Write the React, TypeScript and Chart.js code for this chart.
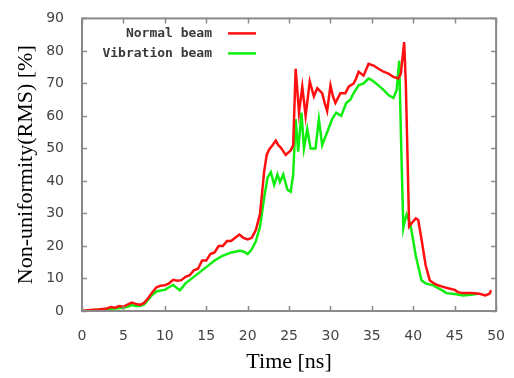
import React, { useEffect, useRef } from "react";
import { Chart, registerables } from "chart.js";

Chart.register(...registerables);

const normalTime = [
  0, 1, 2, 3, 3.5, 4, 4.5, 5, 5.5, 6, 6.5, 7, 7.5, 8, 8.5, 9, 9.5, 10, 10.5, 11, 11.5, 12, 12.5, 13, 13.5, 14, 14.5, 15, 15.5, 16, 16.5, 17, 17.5, 18, 18.5, 19, 19.5, 20, 20.5, 21, 21.5, 22, 22.3, 22.6, 23, 23.4, 23.7, 24, 24.6, 25.2, 25.5, 25.8, 26.2, 26.6, 27, 27.5, 28, 28.4, 29, 29.3, 29.6, 30, 30.3, 30.6, 31.2, 31.8, 32.2, 32.8, 33.1, 33.4, 34, 34.6, 35.2, 35.8, 36.4, 37, 37.6, 38.2, 38.5, 38.9, 39.1, 39.5, 39.8, 40.3, 40.6, 41, 41.5, 42, 42.5, 43, 43.5, 44.2, 45, 45.4, 46, 47, 48, 48.7, 49.2, 49.4,
];
const normalValues = [
  0, 0.3, 0.5, 0.8, 1.2, 1, 1.5, 1.3, 2, 2.6, 2.2, 1.9, 2.5, 4, 5.8, 7.3, 7.8, 7.9, 8.5, 9.6, 9.3, 9.5, 10.5, 11, 12.5, 13, 15.5, 15.5, 17.5, 18, 20, 20, 21.5, 21.5, 22.5, 23.5, 22.5, 22, 22.5, 25, 30, 43, 48, 49.7, 51, 52.4, 51, 50.3, 48, 49.4, 51, 74.5, 61, 69, 60, 70.6, 66, 68.5, 67, 64, 61.5, 69.4, 66, 64, 67, 67, 69, 70, 71.5, 73.6, 72.4, 76, 75.5, 74.5, 73.6, 73, 72, 71.5, 73, 82.7, 70, 26, 27, 28.5, 28, 22, 14, 9.4, 8.5, 7.9, 7.5, 7, 6.5, 5.8, 5.5, 5.5, 5.3, 4.8, 5.3, 6.4,
];

const vibrationTime = [
  0, 1, 2, 3, 4, 5, 5.5, 6, 6.5, 7, 7.5, 8, 8.5, 9, 9.5, 10, 10.5, 11, 11.5, 11.8, 12.2, 12.5, 13, 13.5, 14, 14.5, 15, 15.5, 16, 16.5, 17, 17.5, 18, 18.5, 19, 19.5, 20, 20.5, 21, 21.5, 22, 22.4, 22.8, 23.2, 23.6, 23.9, 24.3, 24.8, 25.2, 25.5, 25.8, 26.1, 26.5, 26.8, 27.2, 27.6, 28.2, 28.6, 29, 29.6, 30.2, 30.7, 31.3, 31.9, 32.4, 32.8, 33.4, 34, 34.6, 35, 35.8, 36.4, 37, 37.6, 38, 38.3, 38.55, 38.8, 39, 39.2, 39.6, 39.8, 40.3, 41, 41.5, 42.4, 43.4, 44, 45, 46, 47, 47.8,
];
const vibrationValues = [
  0, 0.2, 0.4, 0.6, 0.8, 1, 1.3, 1.8, 1.5, 1.5, 2, 3.5, 5, 6, 6.3, 6.5, 7.3, 8, 7, 6.4, 7.5, 8.5, 9.5, 10.5, 11.5, 12.5, 13.5, 14.5, 15.5, 16.3, 17, 17.5, 18, 18.2, 18.5, 18.3, 17.5, 19, 21.5, 26, 35, 41, 42.7, 38.8, 42, 39.7, 42, 37.3, 36.7, 42, 59, 49, 61, 50, 56, 50, 50, 59, 51, 55, 59, 61, 60, 64, 65, 67, 69.4, 70, 71.5, 71, 69.4, 68, 66.4, 65.5, 68, 77, 50, 25.5, 28, 29.7, 27, 24.5, 17, 9.4, 8.5, 7.9, 6.5, 5.5, 5.2, 4.8, 5, 5.3, 5.5,
];

const seriesLabels = ["Normal beam", "Vibration beam"];
const seriesColors = ["#ff1010", "#10ee10"];
const xTicks = [0, 5, 10, 15, 20, 25, 30, 35, 40, 45, 50];
const yTicks = [0, 10, 20, 30, 40, 50, 60, 70, 80, 90];

const framePlugin = {
  id: "frame",
  afterDatasetsDraw(chart: any) {
    const { ctx, chartArea, scales } = chart;
    const { left, right, top, bottom } = chartArea;
    ctx.save();
    ctx.strokeStyle = "#8a8a8a";
    ctx.lineWidth = 1.5;
    const tl = 5;
    ctx.beginPath();
    xTicks.forEach((v) => {
      const px = Math.round(scales.x.getPixelForValue(v)) + 0.5;
      ctx.moveTo(px, bottom);
      ctx.lineTo(px, bottom - tl);
      ctx.moveTo(px, top);
      ctx.lineTo(px, top + tl);
    });
    yTicks.forEach((v) => {
      const py = Math.round(scales.y.getPixelForValue(v)) + 0.5;
      ctx.moveTo(left, py);
      ctx.lineTo(left + tl, py);
      ctx.moveTo(right, py);
      ctx.lineTo(right - tl, py);
    });
    ctx.stroke();
    ctx.lineWidth = 2;
    ctx.strokeRect(left, top, right - left, bottom - top);
    // legend (gnuplot style: text then sample line)
    ctx.font = 'bold 13px "DejaVu Sans Mono"';
    ctx.fillStyle = "#3a3a3a";
    ctx.textAlign = "right";
    ctx.textBaseline = "middle";
    const textRight = left + 130;
    const rowTop = top + 15;
    seriesLabels.forEach((lab, i) => {
      const y = rowTop + i * 20;
      ctx.fillText(lab, textRight, y);
      ctx.strokeStyle = seriesColors[i];
      ctx.lineWidth = 2.5;
      ctx.beginPath();
      ctx.moveTo(textRight + 16, y);
      ctx.lineTo(textRight + 44, y);
      ctx.stroke();
    });
    ctx.restore();
  },
};

export default function App() {
  const ref = useRef<HTMLCanvasElement>(null);
  useEffect(() => {
    const canvas = ref.current;
    if (!canvas) return;
    const chart = new Chart(canvas, {
      type: "line",
      data: {
        datasets: [
          {
            label: seriesLabels[0],
            data: normalTime.map((t, i) => ({ x: t, y: normalValues[i] })),
            borderColor: seriesColors[0],
            borderWidth: 2.5,
            pointRadius: 0,
            tension: 0,
          },
          {
            label: seriesLabels[1],
            data: vibrationTime.map((t, i) => ({ x: t, y: vibrationValues[i] })),
            borderColor: seriesColors[1],
            borderWidth: 2.5,
            pointRadius: 0,
            tension: 0,
          },
        ],
      },
      options: {
        responsive: false,
        animation: false,
        layout: { padding: { top: 14, right: 16, left: 0, bottom: 0 } },
        plugins: { legend: { display: false }, tooltip: { enabled: false } },
        scales: {
          x: {
            type: "linear",
            min: 0,
            max: 50,
            grid: { display: false },
            border: { display: false },
            afterFit: (s: any) => {
              s.height = 67;
            },
            afterBuildTicks: (s: any) => {
              s.ticks = xTicks.map((v) => ({ value: v }));
            },
            ticks: {
              padding: 9,
              color: "#444",
              font: { family: '"DejaVu Sans"', size: 14 },
            },
            title: {
              display: true,
              text: "Time [ns]",
              color: "#000",
              font: { family: '"Liberation Serif"', size: 22 },
              padding: { top: 0, bottom: 3 },
            },
          },
          y: {
            type: "linear",
            min: 0,
            max: 90,
            grid: { display: false },
            border: { display: false },
            afterFit: (s: any) => {
              s.width = 82;
            },
            afterBuildTicks: (s: any) => {
              s.ticks = yTicks.map((v) => ({ value: v }));
            },
            ticks: {
              padding: 10,
              color: "#444",
              font: { family: '"DejaVu Sans"', size: 14 },
            },
            title: {
              display: true,
              text: "Non-uniformity(RMS) [%]",
              color: "#000",
              font: { family: '"Liberation Serif"', size: 22 },
              padding: { top: 13, bottom: 0 },
            },
          },
        },
      },
      plugins: [framePlugin],
    });
    return () => chart.destroy();
  }, []);
  return (
    <div style={{ position: "absolute", left: 0, top: 0, width: 514, height: 378, background: "#fff" }}>
      <canvas ref={ref} width={514} height={378} style={{ display: "block" }} />
    </div>
  );
}
